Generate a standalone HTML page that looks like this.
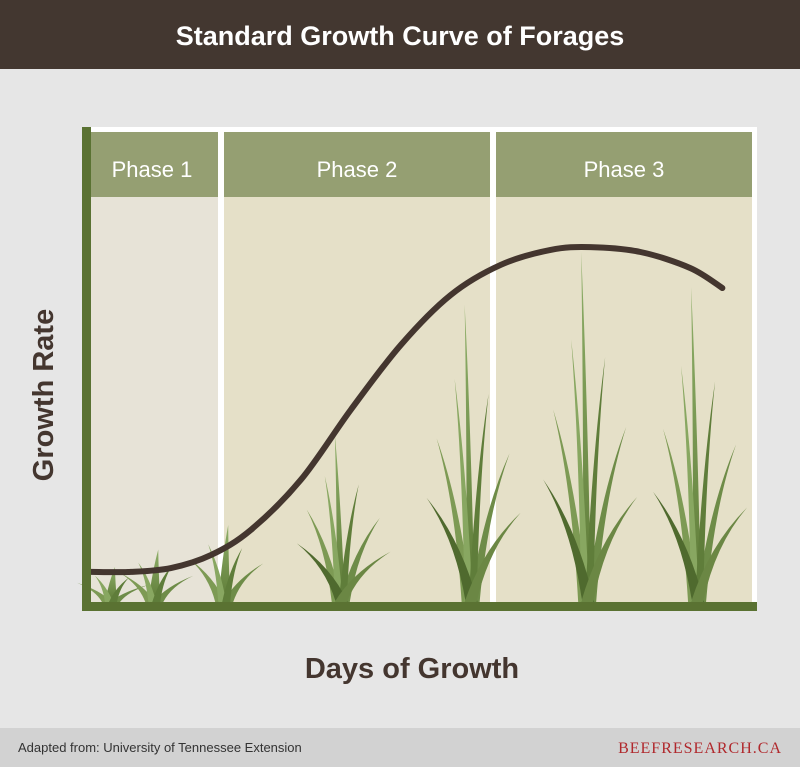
<!DOCTYPE html>
<html><head><meta charset="utf-8"><style>
html,body{margin:0;padding:0;width:800px;height:767px;overflow:hidden;background:#e6e6e6;font-family:"Liberation Sans",sans-serif}
</style></head><body>
<svg width="800" height="767" viewBox="0 0 800 767" xmlns="http://www.w3.org/2000/svg">
<defs>
<linearGradient id="gr" x1="0" y1="1" x2="0" y2="0"><stop offset="0" stop-color="#5d7a36"/><stop offset="1" stop-color="#8fb06a"/></linearGradient>
</defs>
<rect x="0" y="0" width="800" height="69" fill="#433730"/>
<text x="400" y="45" text-anchor="middle" fill="#fff" font-size="27" font-weight="bold">Standard Growth Curve of Forages</text>
<rect x="91" y="127" width="666" height="480" fill="#fff"/>
<rect x="91" y="132" width="127" height="470" fill="#e7e3d7"/>
<rect x="224" y="132" width="266" height="470" fill="#e5e0c8"/>
<rect x="496" y="132" width="256" height="470" fill="#e5e0c8"/>
<rect x="91" y="132" width="127" height="65" fill="#959f72"/>
<rect x="224" y="132" width="266" height="65" fill="#959f72"/>
<rect x="496" y="132" width="256" height="65" fill="#959f72"/>
<text x="152" y="177" text-anchor="middle" fill="#fff" font-size="22">Phase 1</text>
<text x="357" y="177" text-anchor="middle" fill="#fff" font-size="22">Phase 2</text>
<text x="624" y="177" text-anchor="middle" fill="#fff" font-size="22">Phase 3</text>
<g id="plants"></g>
<path id="curve" fill="none" stroke="#44362f" stroke-width="6" stroke-linecap="round"/>
<rect x="82" y="127" width="9" height="484" fill="#5a7232"/>
<rect x="82" y="602" width="675" height="9" fill="#5a7232"/>
<text transform="translate(53,395) rotate(-90)" text-anchor="middle" fill="#44362f" font-size="29" font-weight="bold">Growth Rate</text>
<text x="412" y="678" text-anchor="middle" fill="#44362f" font-size="29" font-weight="bold">Days of Growth</text>
<rect x="0" y="728" width="800" height="39" fill="#d2d2d2"/>
<text x="18" y="752" fill="#333" font-size="13">Adapted from: University of Tennessee Extension</text>
<text x="782" y="753" text-anchor="end" fill="#b0282c" font-size="16" font-family="Liberation Serif,serif" letter-spacing="1">BEEFRESEARCH.CA</text>
</svg>
<script>
const days=[0,6,12,18,24,31.5,39,46.5,54,61.5,69,75,82.5,90,94.8];
const rates=[8.6,8.6,9.7,13.4,20.6,34.9,54.9,73.4,87.7,96.3,100.6,101.4,100,95.4,89.7];
const plantDays=[3,9.5,20,37.5,57,74.5,91];
const plantHeights=[10,15,22,48,85,100,90];
function xs(d){return 91+d*6.66;}
function ys(r){return 602-r*3.5;}
function bezierPath(px,py){
  let d='M'+px[0]+','+py[0];
  for(let i=0;i<px.length-1;i++){
    const p0=[px[Math.max(i-1,0)],py[Math.max(i-1,0)]],p1=[px[i],py[i]],p2=[px[i+1],py[i+1]],p3=[px[Math.min(i+2,px.length-1)],py[Math.min(i+2,px.length-1)]];
    const c1=[p1[0]+(p2[0]-p0[0])/6,p1[1]+(p2[1]-p0[1])/6],c2=[p2[0]-(p3[0]-p1[0])/6,p2[1]-(p3[1]-p1[1])/6];
    d+=' C'+c1[0]+','+c1[1]+' '+c2[0]+','+c2[1]+' '+p2[0]+','+p2[1];
  }
  return d;
}
document.getElementById('curve').setAttribute('d',bezierPath(days.map(xs),rates.map(ys)));
const g=document.getElementById('plants');
const NS='http://www.w3.org/2000/svg';
function blade(bx,h,lean,w,col){
  const tx=bx+lean,ty=602-h;
  const p=document.createElementNS(NS,'path');
  p.setAttribute('d','M'+(bx-w)+',602 Q'+(bx-w*0.5+lean*0.3)+','+(602-h*0.6)+' '+tx+','+ty+' Q'+(bx+w*0.5+lean*0.3)+','+(602-h*0.6)+' '+(bx+w)+',602 Z');
  p.setAttribute('fill',col);
  
  
  g.appendChild(p);
}
plantDays.forEach((d,i)=>{
  const bx=xs(d),h=plantHeights[i]*3.5;
  const tall=plantHeights[i]>40;
  blade(bx-4,h*0.55,-30,5,'#7d9a54');
  blade(bx+4,h*0.5,35,5,'#6e8c48');
  blade(bx,h,tall?-6:4,tall?4:6,'url(#gr)');
  blade(bx-2,h*0.75,-14,4,'#88a761');
  blade(bx+2,h*0.7,16,4,'#5f7d3a');
  if(tall){blade(bx+1,h*0.35,-45,6,'#4f6a2e');blade(bx,h*0.3,50,6,'#6b8744');}
});
</script>
</body></html>
